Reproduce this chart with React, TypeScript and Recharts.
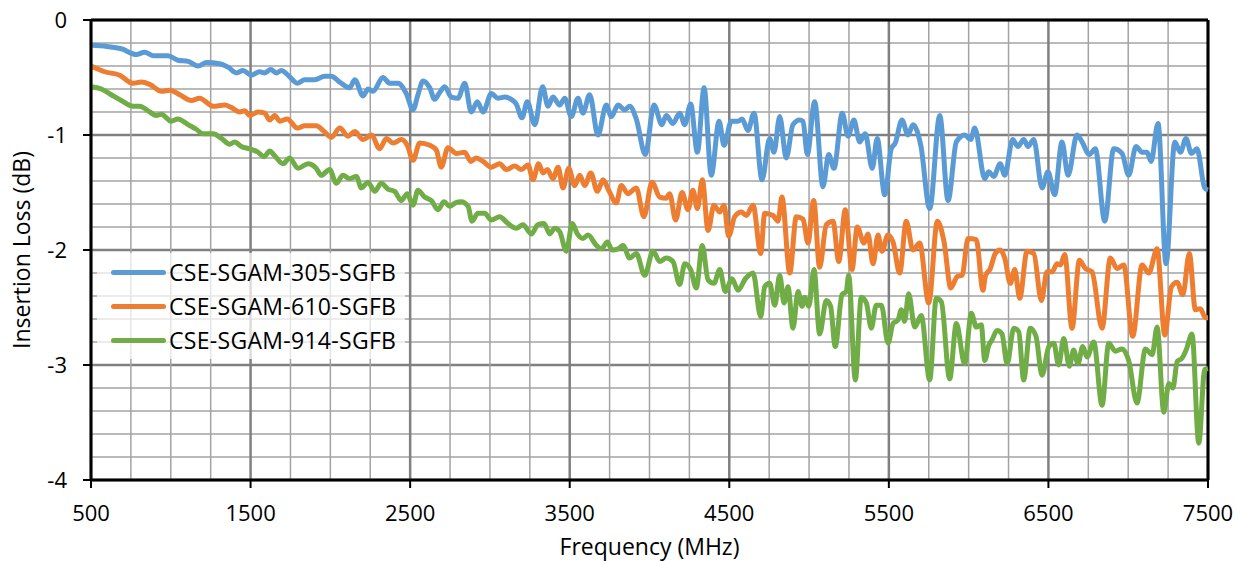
import React from "react";
import {
  LineChart,
  Line,
  XAxis,
  YAxis,
  CartesianGrid,
  ReferenceLine,
} from "recharts";

// readings taken off the plot (MHz, dB)
const freq305 = [
  500, 600, 690, 784, 836, 889, 983, 1045, 1108, 1171, 1223, 1307, 1359, 1411, 1453, 1505, 1557,
  1589, 1626, 1661, 1693, 1735, 1793, 1839, 1902, 1965, 2006, 2059, 2121, 2153, 2205, 2236, 2267,
  2330, 2372, 2424, 2476, 2518, 2549, 2581, 2623, 2654, 2685, 2717, 2758, 2800, 2842, 2883, 2921,
  2957, 3009, 3051, 3093, 3134, 3165, 3201, 3234, 3281, 3330, 3364, 3395, 3437, 3469, 3510, 3552,
  3583, 3625, 3677, 3729, 3761, 3803, 3845, 3876, 3917, 3974, 4028, 4078, 4105, 4147, 4189, 4221,
  4258, 4300, 4342, 4387, 4436, 4467, 4513, 4555, 4580, 4617, 4655, 4705, 4753, 4780, 4816, 4857,
  4899, 4941, 4962, 4989, 5035, 5087, 5123, 5156, 5208, 5244, 5281, 5317, 5352, 5396, 5427, 5474,
  5515, 5540, 5582, 5620, 5651, 5700, 5756, 5819, 5871, 5923, 5975, 6013, 6038, 6101, 6126, 6157,
  6198, 6226, 6276, 6309, 6345, 6372, 6408, 6460, 6497, 6539, 6585, 6623, 6679, 6711, 6756, 6794,
  6853, 6909, 6961, 7003, 7049, 7087, 7118, 7143, 7187, 7237, 7292, 7327, 7362, 7396, 7431, 7479,
  7500,
];
const loss305 = [
  -0.22, -0.23, -0.25, -0.3, -0.28, -0.31, -0.31, -0.35, -0.36, -0.4, -0.37, -0.38, -0.41, -0.46,
  -0.44, -0.48, -0.45, -0.46, -0.43, -0.46, -0.44, -0.48, -0.55, -0.52, -0.52, -0.49, -0.49, -0.54,
  -0.59, -0.52, -0.66, -0.6, -0.62, -0.5, -0.55, -0.55, -0.64, -0.78, -0.65, -0.53, -0.59, -0.69,
  -0.63, -0.58, -0.67, -0.68, -0.55, -0.8, -0.71, -0.8, -0.64, -0.68, -0.67, -0.69, -0.73, -0.85,
  -0.71, -0.91, -0.58, -0.75, -0.67, -0.74, -0.68, -0.84, -0.68, -0.81, -0.65, -1.0, -0.74, -0.84,
  -0.74, -0.78, -0.75, -0.86, -1.17, -0.74, -0.91, -0.83, -0.9, -0.81, -0.91, -0.73, -1.15, -0.59,
  -1.35, -0.88, -1.09, -0.88, -0.88, -0.86, -0.96, -0.81, -1.39, -1.03, -1.15, -0.84, -1.2, -0.91,
  -0.87, -0.88, -1.17, -0.71, -1.45, -1.17, -1.29, -0.81, -1.01, -0.87, -1.06, -0.99, -1.29, -1.03,
  -1.52, -1.12, -1.07, -0.87, -1.0, -0.91, -1.09, -1.64, -0.83, -1.57, -1.06, -1.0, -1.04, -0.94,
  -1.38, -1.32, -1.36, -1.25, -1.35, -1.04, -1.1, -1.04, -1.1, -1.04, -1.46, -1.32, -1.52, -1.06,
  -1.35, -1.0, -1.06, -1.17, -1.12, -1.75, -1.12, -1.16, -1.35, -1.1, -1.15, -1.15, -1.23, -0.9,
  -2.12, -1.06, -1.15, -1.03, -1.16, -1.12, -1.46, -1.48,
];

const freq610 = [
  500, 586, 680, 763, 815, 868, 941, 993, 1056, 1129, 1181, 1265, 1338, 1379, 1432, 1463, 1495,
  1547, 1589, 1620, 1651, 1683, 1730, 1793, 1839, 1912, 1954, 2006, 2059, 2111, 2153, 2205, 2257,
  2309, 2351, 2393, 2445, 2482, 2518, 2560, 2623, 2664, 2695, 2737, 2789, 2842, 2880, 2915, 2957,
  3009, 3061, 3103, 3155, 3197, 3239, 3270, 3305, 3333, 3360, 3395, 3427, 3458, 3494, 3531, 3563,
  3594, 3632, 3673, 3709, 3744, 3792, 3823, 3865, 3917, 3965, 4016, 4064, 4105, 4126, 4164, 4204,
  4241, 4272, 4300, 4331, 4367, 4404, 4440, 4467, 4496, 4534, 4575, 4607, 4649, 4697, 4722, 4774,
  4805, 4830, 4879, 4920, 4962, 4993, 5029, 5066, 5108, 5150, 5186, 5227, 5269, 5302, 5344, 5369,
  5401, 5432, 5457, 5494, 5526, 5568, 5609, 5651, 5693, 5750, 5804, 5846, 5888, 5929, 5959, 5996,
  6048, 6090, 6104, 6136, 6167, 6198, 6226, 6261, 6289, 6320, 6366, 6408, 6456, 6491, 6523, 6554,
  6575, 6602, 6648, 6694, 6731, 6773, 6836, 6888, 6930, 6972, 7028, 7087, 7129, 7181, 7229, 7271,
  7306, 7342, 7383, 7421, 7452, 7484, 7500,
];
const loss610 = [
  -0.4, -0.45, -0.48, -0.55, -0.54, -0.56, -0.62, -0.61, -0.65, -0.7, -0.68, -0.75, -0.74, -0.76,
  -0.8, -0.79, -0.83, -0.8, -0.81, -0.87, -0.83, -0.88, -0.86, -0.94, -0.92, -0.92, -0.96, -1.02,
  -0.94, -1.01, -0.97, -1.04, -1.0, -1.12, -1.03, -1.07, -1.04, -1.09, -1.22, -1.07, -1.09, -1.13,
  -1.28, -1.11, -1.16, -1.15, -1.23, -1.2, -1.23, -1.28, -1.25, -1.3, -1.27, -1.3, -1.26, -1.39,
  -1.25, -1.33, -1.3, -1.38, -1.28, -1.46, -1.29, -1.44, -1.35, -1.44, -1.33, -1.49, -1.39, -1.48,
  -1.59, -1.44, -1.51, -1.46, -1.71, -1.41, -1.54, -1.55, -1.51, -1.74, -1.5, -1.65, -1.48, -1.64,
  -1.39, -1.83, -1.61, -1.67, -1.61, -1.88, -1.71, -1.67, -1.7, -1.61, -2.03, -1.68, -1.7, -1.75,
  -1.54, -2.2, -1.71, -1.73, -1.94, -1.57, -2.15, -1.78, -1.75, -2.1, -1.65, -2.17, -1.8, -1.94,
  -1.86, -2.12, -1.87, -2.01, -1.87, -1.93, -2.2, -1.75, -2.0, -1.94, -2.46, -1.75, -1.93, -2.33,
  -2.23, -2.22, -1.9, -1.91, -2.35, -2.23, -2.16, -2.03, -2.0, -2.07, -2.29, -2.17, -2.42, -2.01,
  -2.03, -2.44, -2.19, -2.19, -2.12, -2.13, -2.04, -2.68, -2.09, -2.16, -2.19, -2.68, -2.07, -2.16,
  -2.13, -2.75, -2.13, -2.2, -1.99, -2.74, -2.32, -2.28, -2.39, -2.03, -2.52, -2.51, -2.59, -2.59,
];

const freq914 = [
  500, 565, 627, 690, 763, 805, 868, 909, 941, 1003, 1045, 1108, 1160, 1202, 1265, 1317, 1369,
  1401, 1442, 1495, 1547, 1584, 1620, 1651, 1703, 1745, 1797, 1860, 1912, 1943, 1996, 2037, 2079,
  2121, 2163, 2194, 2236, 2278, 2319, 2361, 2403, 2445, 2482, 2518, 2549, 2591, 2633, 2675, 2712,
  2748, 2783, 2821, 2863, 2888, 2925, 2967, 3009, 3061, 3113, 3165, 3207, 3259, 3301, 3339, 3375,
  3406, 3437, 3479, 3516, 3548, 3583, 3615, 3667, 3698, 3736, 3765, 3803, 3834, 3876, 3917, 3970,
  4022, 4064, 4105, 4147, 4189, 4221, 4258, 4293, 4331, 4367, 4404, 4440, 4475, 4517, 4555, 4601,
  4649, 4697, 4722, 4753, 4785, 4816, 4843, 4868, 4899, 4931, 4956, 4973, 4998, 5031, 5066, 5108,
  5135, 5164, 5206, 5233, 5248, 5290, 5327, 5359, 5390, 5421, 5453, 5495, 5526, 5557, 5578, 5599,
  5624, 5662, 5703, 5756, 5797, 5829, 5881, 5923, 5975, 6017, 6048, 6079, 6101, 6126, 6147, 6178,
  6209, 6241, 6283, 6314, 6345, 6386, 6422, 6460, 6502, 6533, 6564, 6596, 6631, 6658, 6685, 6715,
  6742, 6784, 6836, 6878, 6919, 6961, 7003, 7055, 7108, 7150, 7181, 7223, 7255, 7280, 7307, 7338,
  7363, 7400, 7442, 7479, 7500,
];
const loss914 = [
  -0.58, -0.6, -0.65, -0.7, -0.75, -0.75, -0.8, -0.83, -0.82, -0.88, -0.86, -0.91, -0.95, -0.99,
  -0.99, -1.03, -1.08, -1.06, -1.1, -1.12, -1.15, -1.19, -1.14, -1.18, -1.25, -1.2, -1.29, -1.25,
  -1.29, -1.35, -1.3, -1.42, -1.35, -1.38, -1.36, -1.46, -1.41, -1.49, -1.42, -1.47, -1.49, -1.57,
  -1.51, -1.61, -1.48, -1.54, -1.57, -1.65, -1.58, -1.62, -1.59, -1.58, -1.62, -1.75, -1.68, -1.68,
  -1.74, -1.71, -1.77, -1.81, -1.78, -1.86, -1.78, -1.77, -1.86, -1.81, -1.84, -2.01, -1.77, -1.86,
  -1.9, -1.87, -1.96, -1.99, -1.93, -2.0, -1.99, -1.96, -2.07, -2.03, -2.22, -2.01, -2.1, -2.07,
  -2.1, -2.3, -2.12, -2.17, -2.33, -1.96, -2.26, -2.29, -2.17, -2.36, -2.25, -2.35, -2.25, -2.2,
  -2.58, -2.32, -2.29, -2.48, -2.22, -2.46, -2.32, -2.68, -2.36, -2.49, -2.41, -2.49, -2.17, -2.73,
  -2.44, -2.49, -2.84, -2.39, -2.36, -2.22, -3.13, -2.41, -2.46, -2.68, -2.48, -2.48, -2.81, -2.64,
  -2.61, -2.52, -2.62, -2.38, -2.67, -2.57, -3.13, -2.42, -2.45, -3.12, -2.64, -2.99, -2.55, -2.67,
  -2.65, -2.96, -2.83, -2.78, -2.7, -2.73, -2.99, -2.68, -2.71, -3.13, -2.68, -2.75, -3.09, -2.84,
  -2.81, -3.0, -2.77, -3.01, -2.87, -2.99, -2.84, -2.93, -2.8, -3.35, -2.81, -2.88, -2.86, -2.96,
  -3.33, -2.86, -2.91, -2.67, -3.41, -3.16, -3.2, -2.97, -2.94, -2.87, -2.73, -3.68, -3.04, -3.03,
];

const seriesNames = ["CSE-SGAM-305-SGFB", "CSE-SGAM-610-SGFB", "CSE-SGAM-914-SGFB"];
const seriesColors = ["#5b9bd5", "#ed7d31", "#70ad47"];

// labelled ticks and the finer grid steps
const xLabels = [500, 1500, 2500, 3500, 4500, 5500, 6500, 7500];
const yLabels = [0, -1, -2, -3, -4];
const xGridTicks = [
  500, 750, 1000, 1250, 1500, 1750, 2000, 2250, 2500, 2750, 3000, 3250, 3500, 3750, 4000, 4250,
  4500, 4750, 5000, 5250, 5500, 5750, 6000, 6250, 6500, 6750, 7000, 7250, 7500,
];
const yGridTicks = [
  0, -0.2, -0.4, -0.6, -0.8, -1, -1.2, -1.4, -1.6, -1.8, -2, -2.2, -2.4, -2.6, -2.8, -3, -3.2,
  -3.4, -3.6, -3.8, -4,
];

const toRows = (freqs: number[], vals: number[]) =>
  freqs.map((f, i) => ({ f, v: vals[i] }));

const series = [
  toRows(freq305, loss305),
  toRows(freq610, loss610),
  toRows(freq914, loss914),
];

const FONT = "'Open Sans', sans-serif";
const TICK_LEN = 8;
const X_GAP = 17;
const Y_GAP = 16;

function XTick({ x, y, payload }: any) {
  if (!xLabels.includes(payload.value)) return <g />;
  const top = y - X_GAP - TICK_LEN;
  return (
    <g>
      <line x1={x} x2={x} y1={top} y2={top + TICK_LEN} stroke="#000" strokeWidth={2} />
      <text x={x} y={y} dy="0.71em" textAnchor="middle" fill="#000" fontSize={22} fontFamily={FONT}>
        {payload.value}
      </text>
    </g>
  );
}

function YTick({ x, y, payload }: any) {
  if (!yLabels.includes(payload.value)) return <g />;
  const start = x + Y_GAP;
  return (
    <g>
      <line x1={start} x2={start + TICK_LEN} y1={y} y2={y} stroke="#000" strokeWidth={2} />
      <text x={x} y={y} dy="0.355em" textAnchor="end" fill="#000" fontSize={22} fontFamily={FONT}>
        {payload.value}
      </text>
    </g>
  );
}

const gridLine = (isVertical: boolean) => (props: any) => {
  const { x1, y1, x2, y2, index } = props;
  const major = isVertical ? index % 4 === 0 : index % 5 === 0;
  return (
    <line
      key={`${x1}-${y1}-${index}`}
      x1={x1}
      y1={y1}
      x2={x2}
      y2={y2}
      stroke={major ? "#808080" : "#a3a3a3"}
      strokeWidth={major ? 2.5 : 1.5}
    />
  );
};

function ChartLegend() {
  return (
    <div
      style={{
        position: "absolute",
        left: 97,
        top: 253,
        width: 308,
        padding: "2px 0",
        background: "rgba(255,255,255,0.72)",
        fontFamily: FONT,
        fontSize: 23,
        letterSpacing: 0.3,
        color: "#000",
      }}
    >
      {seriesNames.map((name, i) => (
        <div key={name} style={{ height: 34, display: "flex", alignItems: "center" }}>
          <span
            style={{
              display: "inline-block",
              marginLeft: 14,
              width: 55,
              height: 5,
              borderRadius: 3,
              background: seriesColors[i],
            }}
          />
          <span style={{ marginLeft: 3, whiteSpace: "nowrap" }}>{name}</span>
        </div>
      ))}
    </div>
  );
}

export default function App() {
  return (
    <div
      style={{
        position: "absolute",
        left: 0,
        top: 0,
        width: 1242,
        height: 561,
        background: "#fff",
      }}
    >
      <LineChart
        width={1242}
        height={561}
        margin={{ top: 20, right: 34, left: 0, bottom: 3 }}
        style={{ fontFamily: FONT }}
      >
        <CartesianGrid vertical={gridLine(true)} horizontal={gridLine(false)} />
        <XAxis
          type="number"
          dataKey="f"
          domain={[500, 7500]}
          ticks={xGridTicks}
          interval={0}
          height={78}
          tick={<XTick />}
          tickSize={TICK_LEN}
          tickMargin={X_GAP}
          tickLine={false}
          axisLine={{ stroke: "#000", strokeWidth: 3 }}
          label={{
            value: "Frequency (MHz)",
            position: "insideBottom",
            offset: 3,
            style: { fill: "#000", fontSize: 23, fontFamily: FONT },
          }}
        />
        <YAxis
          type="number"
          domain={[-4, 0]}
          ticks={yGridTicks}
          interval={0}
          width={91}
          tick={<YTick />}
          tickSize={TICK_LEN}
          tickMargin={Y_GAP}
          tickLine={false}
          axisLine={{ stroke: "#000", strokeWidth: 3 }}
          label={{
            value: "Insertion Loss (dB)",
            angle: -90,
            position: "insideLeft",
            offset: 22,
            style: { fill: "#000", fontSize: 23, fontFamily: FONT, textAnchor: "middle" },
          }}
        />
        <ReferenceLine y={0} stroke="#000" strokeWidth={3} />
        <ReferenceLine x={7500} stroke="#000" strokeWidth={3} />
        {series.map((rows, i) => (
          <Line
            key={seriesNames[i]}
            data={rows}
            dataKey="v"
            name={seriesNames[i]}
            type="monotone"
            stroke={seriesColors[i]}
            strokeWidth={5}
            strokeLinejoin="round"
            dot={false}
            activeDot={false}
            isAnimationActive={false}
          />
        ))}
      </LineChart>
      <ChartLegend />
    </div>
  );
}
